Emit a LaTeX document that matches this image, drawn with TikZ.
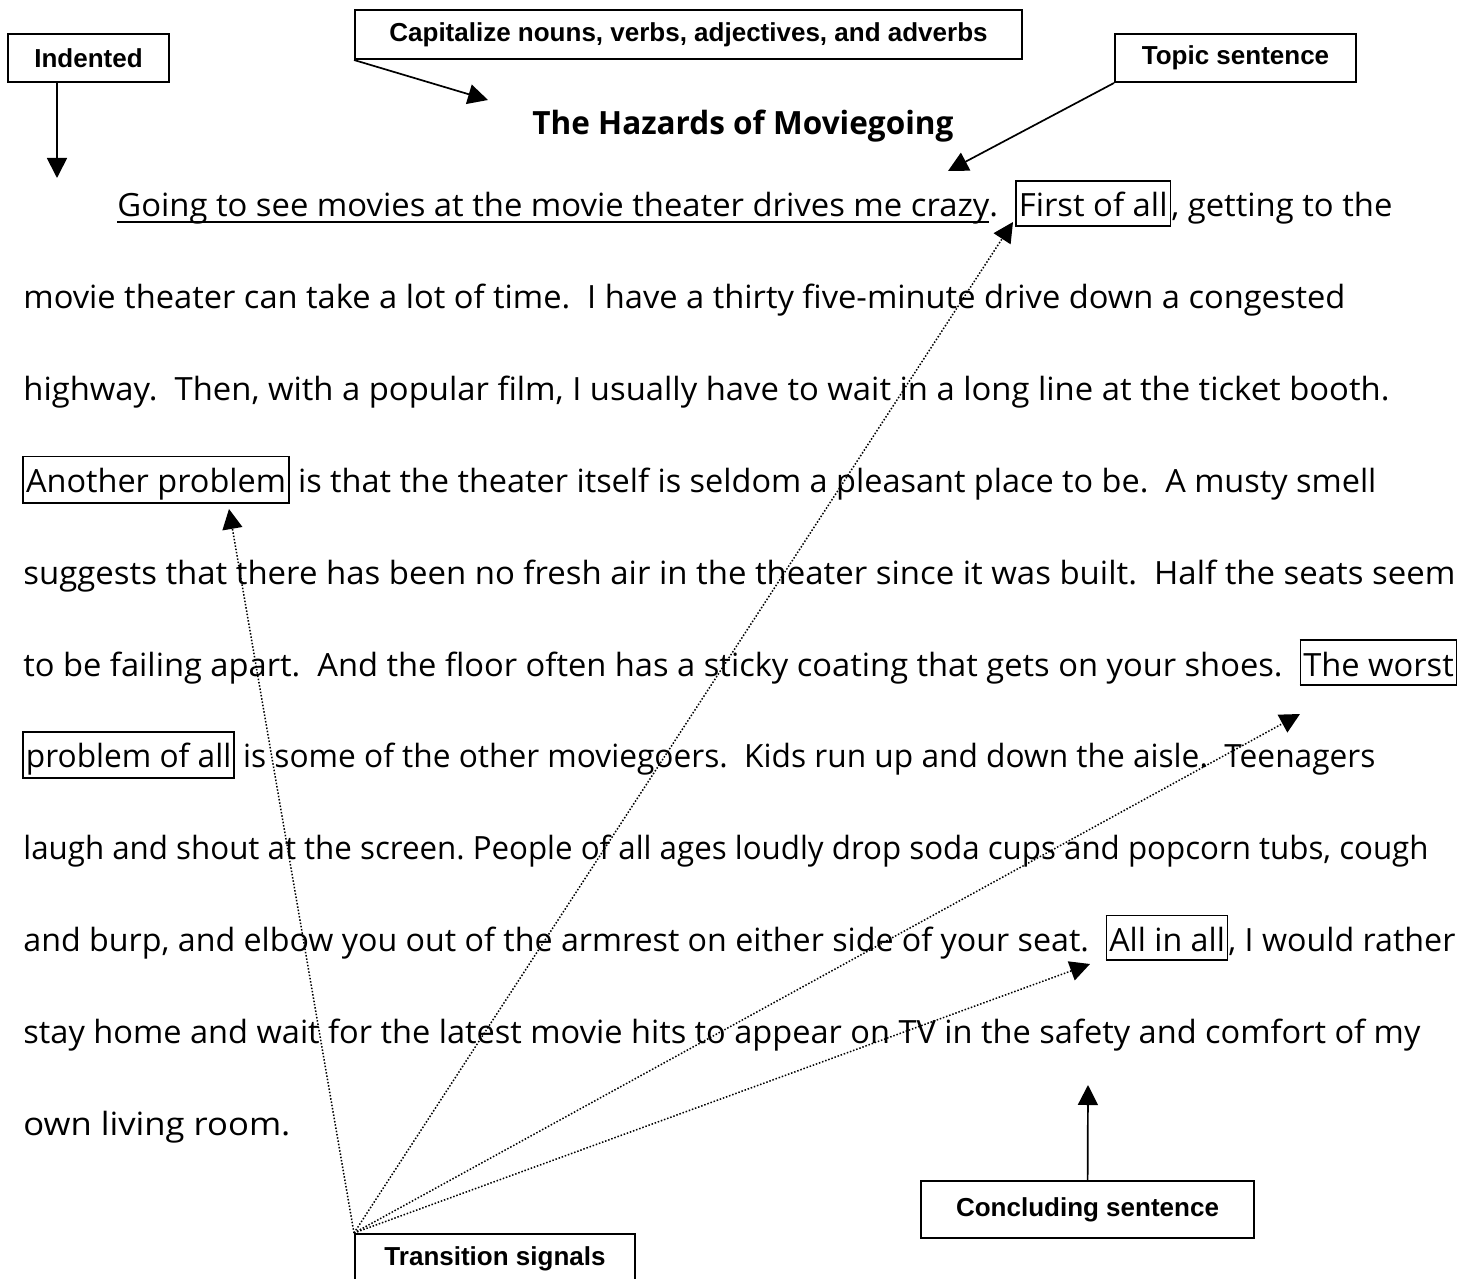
\documentclass[tikz,border=0pt]{standalone}
\usepackage{fontspec}
\setmainfont{Open Sans}
\newfontfamily\arialfont{Liberation Sans}
\usetikzlibrary{arrows.meta}

\frenchspacing

% underlined topic sentence
\newcommand\topicline[1]{\setbox0=\hbox{#1}\rlap{\rule[-2.85pt]{\wd0}{0.7pt}}\box0}
% boxed transition signal inside the running text
\newcommand\tsig[1]{{\setlength\fboxsep{1pt}\setlength\fboxrule{0.8pt}\fbox{\rule[-3pt]{0pt}{19.5pt}#1}}}
% one printed line, stretched to the width it has on the page
\newcommand\fitline[2]{\resizebox{#1pt}{\height}{#2}}

\tikzset{
	bodyline/.style = {anchor=base west, inner sep=0pt, font=\fontsize{16}{19}\selectfont},
	lab/.style = {draw, line width=1pt, inner sep=0pt, font=\arialfont\bfseries\fontsize{13}{15}\selectfont},
	arr/.style = {-{Triangle[width=10pt,length=10pt]}, line width=0.85pt},
	dotarr/.style = {arr, line width=0.75pt, dash pattern=on 0.75pt off 0.9pt}
}

\begin{document}
\begin{tikzpicture}[x=0.5pt, y=-0.5pt]
	\useasboundingbox (0,0) rectangle (1463,1279);
	\clip (0,0) rectangle (1463,1279);

	% labels
	\node [lab, minimum width=80.5pt, minimum height=24pt] (indent) at (88.5,58) {Indented};
	\node [lab, minimum width=333.5pt, minimum height=24.5pt] (capital) at (688.5,34.5) {Capitalize nouns, verbs, adjectives, and adverbs};
	\node [lab, minimum width=120.5pt, minimum height=24pt] (topic) at (1235.5,58) {Topic sentence};
	\node [lab, minimum width=140pt, minimum height=25pt] (trans) at (495,1259) {Transition signals};
	\node [lab, minimum width=166.5pt, minimum height=28.5pt] (concl) at (1087.5,1209.5) {Concluding sentence};

	% the paragraph
	\node [bodyline, font=\bfseries\fontsize{16}{19}\selectfont] (title) at (532,134) {\fitline{210.5}{The Hazards of Moviegoing}};
	\node [bodyline] (l1) at (117,217) {\fitline{637.5}{\topicline{Going to see movies at the movie theater drives me crazy}.~ \tsig{First of all}, getting to the}};
	\node [bodyline] (l2) at (23,308.8) {\fitline{661}{movie theater can take a lot of time.~ I have a thirty five-minute drive down a congested}};
	\node [bodyline] (l3) at (23,400.6) {\fitline{683}{highway.~ Then, with a popular film, I usually have to wait in a long line at the ticket booth.}};
	\node [bodyline] (l4) at (22,492.4) {\fitline{677}{\tsig{Another problem} is that the theater itself is seldom a pleasant place to be.~ A musty smell}};
	\node [bodyline] (l5) at (23,584.2) {\fitline{716}{suggests that there has been no fresh air in the theater since it was built.~ Half the seats seem}};
	\node [bodyline] (l6) at (23,676) {\fitline{717}{to be failing apart.~ And the floor often has a sticky coating that gets on your shoes.~ \tsig{The worst}}};
	\node [bodyline] (l7) at (22,767.8) {\fitline{676.5}{\tsig{problem of all} is some of the other moviegoers.~ Kids run up and down the aisle.~ Teenagers}};
	\node [bodyline] (l8) at (23,859.6) {\fitline{702.5}{laugh and shout at the screen. People of all ages loudly drop soda cups and popcorn tubs, cough}};
	\node [bodyline] (l9) at (23,951.4) {\fitline{716}{and burp, and elbow you out of the armrest on either side of your seat.~ \tsig{All in all}, I would rather}};
	\node [bodyline] (l10) at (23,1043.2) {\fitline{698.5}{stay home and wait for the latest movie hits to appear on TV in the safety and comfort of my}};
	\node [bodyline] (l11) at (23,1135) {\fitline{133.5}{own living room.}};

	% where the arrows point
	\coordinate (indentTip) at (57,178);
	\coordinate (capTip) at (488,100);
	\coordinate (topicTip) at (948,171);
	\coordinate (conclTip) at (1088,1085);
	\coordinate (anotherTip) at (229,509);
	\coordinate (firstTip) at (1013,222);
	\coordinate (worstTip) at (1300,714);
	\coordinate (allTip) at (1090,964);

	\draw [arr] (indent.south -| indentTip) -- (indentTip);
	\draw [arr] (capital.south west) -- (capTip);
	\draw [arr] (topic.south west) -- (topicTip);
	\draw [arr] (concl) -- (conclTip);
	\foreach \t in {anotherTip, firstTip, worstTip, allTip}
		\draw [dotarr] (trans.north west) -- (\t);
\end{tikzpicture}
\end{document}
